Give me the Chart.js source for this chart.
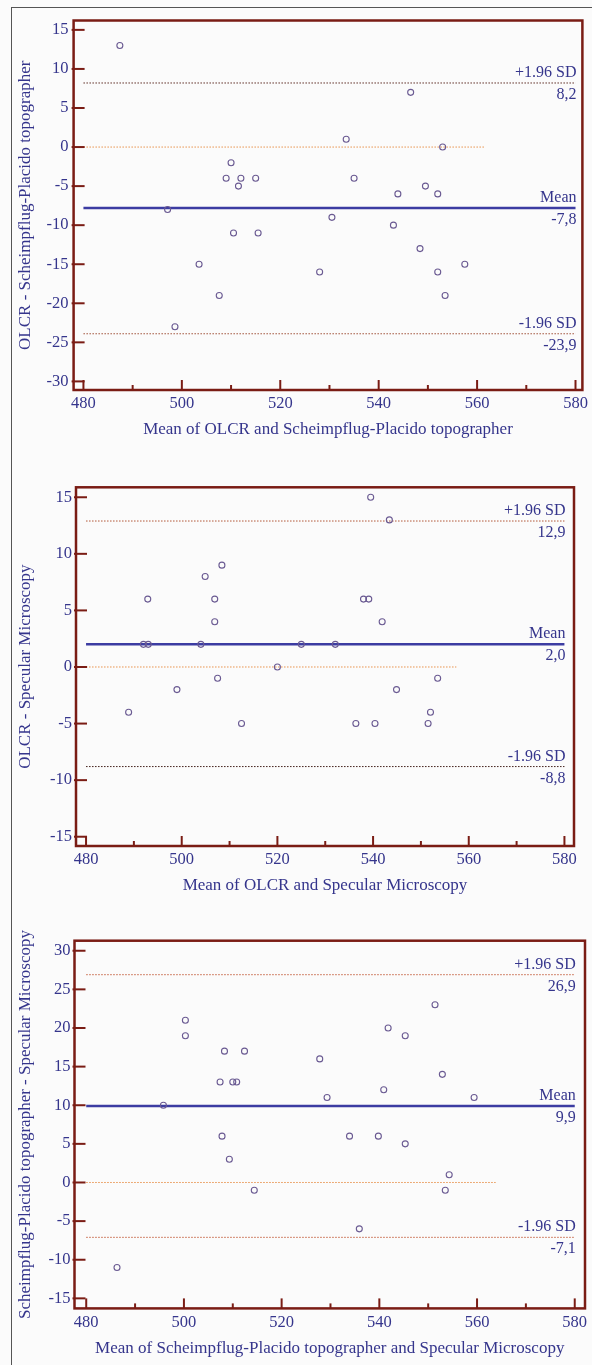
<!DOCTYPE html>
<html lang="en">
<head>
<meta charset="UTF-8">
<title>Bland-Altman plots</title>
<script src="https://cdn.jsdelivr.net/npm/chart.js"></script>
<style>
  body { margin: 0; background: #fbfbfb; }
  #page { position: relative; width: 592px; height: 1365px; overflow: hidden; }
  #frame { position: absolute; left: 11px; top: 7px; width: 620px; height: 1400px;
           border-left: 1px solid #555; border-top: 1px solid #555; }
  canvas { position: absolute; left: 0; }
</style>
</head>
<body>
<div id="page">
  <div id="frame"></div>
  <canvas id="c1" width="592" height="445" style="top:0px"></canvas>
  <canvas id="c2" width="592" height="455" style="top:445px"></canvas>
  <canvas id="c3" width="592" height="465" style="top:900px"></canvas>
</div>
<script>
// x ticks shared by all three plots
const xMajor = [480, 500, 520, 540, 560, 580];
const xMinor = [490, 510, 530, 550, 570];
const limitLabels = ['+1.96 SD', 'Mean', '-1.96 SD'];

// OLCR - Scheimpflug-Placido topographer
const p1X = [487.4, 546.5, 533.4, 553.0, 510.0, 509.0, 512.0, 511.5, 515.0, 535.0, 543.9, 549.5, 552.0,
             497.1, 530.5, 510.5, 515.5, 543.0, 503.5, 528.0, 548.4, 552.0, 557.5, 507.6, 553.5, 498.6];
const p1Y = [13, 7, 1, 0, -2, -4, -4, -5, -4, -4, -6, -5, -6,
             -8, -9, -11, -11, -10, -15, -16, -13, -16, -15, -19, -19, -23];
const p1Limits = [8.2, -7.8, -23.9];
const p1YTicks = [15, 10, 5, 0, -5, -10, -15, -20, -25, -30];
const p1ZeroEnd = 561.7;

// OLCR - Specular Microscopy
const p2X = [539.5, 543.4, 508.4, 504.9, 492.9, 506.9, 538.0, 539.1, 506.9, 541.9, 492.0, 493.0, 504.0,
             525.0, 532.1, 520.0, 507.5, 553.5, 499.0, 544.9, 488.9, 552.0, 512.5, 536.4, 540.4, 551.5];
const p2Y = [15, 13, 9, 8, 6, 6, 6, 6, 4, 4, 2, 2, 2,
             2, 2, 0, -1, -1, -2, -2, -4, -4, -5, -5, -5, -5];
const p2Limits = [12.9, 2.0, -8.8];
const p2YTicks = [15, 10, 5, 0, -5, -10, -15];
const p2ZeroEnd = 557.4;

// Scheimpflug-Placido topographer - Specular Microscopy
const p3X = [551.4, 500.3, 541.8, 500.3, 545.3, 508.3, 512.4, 527.8, 552.9, 507.4, 510.0, 510.8, 540.9,
             529.3, 559.4, 495.8, 507.8, 533.9, 539.8, 545.3, 509.3, 554.3, 514.4, 553.5, 535.9, 486.3];
const p3Y = [23, 21, 20, 19, 19, 17, 17, 16, 14, 13, 13, 13, 12,
             11, 11, 10, 6, 6, 6, 5, 3, 1, -1, -1, -6, -11];
const p3Limits = [26.9, 9.9, -7.1];
const p3YTicks = [30, 25, 20, 15, 10, 5, 0, -5, -10, -15];
const p3ZeroEnd = 563.8;

const TEXT = '#35358c';
const BOX = '#7a1c14';
const FONT = 'Liberation Serif, Times New Roman, serif';

const framePlugin = {
  id: 'frame',
  afterDatasetsDraw(chart, args, opts) {
    const ctx = chart.ctx, a = chart.chartArea;
    const xs = chart.scales.x, ys = chart.scales.y;
    ctx.save();
    ctx.strokeStyle = BOX;
    ctx.lineWidth = 2;
    const seg = (x1, y1, x2, y2) => { ctx.beginPath(); ctx.moveTo(x1, y1); ctx.lineTo(x2, y2); ctx.stroke(); };
    xMajor.forEach(v => { const px = xs.getPixelForValue(v); seg(px, a.bottom, px, a.bottom - 10); });
    xMinor.forEach(v => { const px = xs.getPixelForValue(v); seg(px, a.bottom, px, a.bottom - 5); });
    ys.ticks.forEach(t => { const py = ys.getPixelForValue(t.value); seg(a.left - 2, py, a.left + 11, py); });
    ctx.lineWidth = 2.5;
    ctx.strokeRect(a.left, a.top, a.right - a.left, a.bottom - a.top);

    // limit labels above / values below each line
    ctx.fillStyle = TEXT;
    ctx.font = '16px ' + FONT;
    ctx.textAlign = 'right';
    ctx.textBaseline = 'alphabetic';
    const rx = xs.getPixelForValue(580) + 1;
    opts.limits.forEach((v, i) => {
      const py = ys.getPixelForValue(v);
      ctx.fillText(limitLabels[i], rx, py - 6);
      ctx.fillText(v.toFixed(1).replace('.', ','), rx, py + 16);
    });
    ctx.restore();
  }
};

function makePanel(id, xs, ysv, limits, yTicks, zeroEnd, c) {
  const hline = (y, x2, color, width, dash) => ({
    type: 'line', showLine: true, pointRadius: 0, borderColor: color, borderWidth: width,
    borderDash: dash, data: [{x: 480, y: y}, {x: x2, y: y}]
  });
  new Chart(document.getElementById(id), {
    type: 'scatter',
    data: {
      datasets: [
        { data: xs.map((x, i) => ({x: x, y: ysv[i]})), pointStyle: 'circle', pointRadius: 3,
          backgroundColor: 'rgba(0,0,0,0)', borderColor: '#6a5a92', borderWidth: 1.1 },
        hline(limits[1], 580, '#3c3ca2', 2.5, []),
        hline(limits[0], 580, c.upper, 1, [1.5, 1.5]),
        hline(limits[2], 580, c.lower, 1, [1.5, 1.5]),
        hline(0, zeroEnd, '#e8924c', 1, [1.5, 1.5])
      ]
    },
    options: {
      responsive: false,
      animation: false,
      layout: { autoPadding: false, padding: { left: 0, top: c.top, right: 592 - c.right, bottom: 0 } },
      plugins: { legend: { display: false }, tooltip: { enabled: false }, frame: { limits: limits } },
      scales: {
        x: {
          type: 'linear', min: c.xmin, max: c.xmax,
          afterBuildTicks: s => { s.ticks = xMajor.map(v => ({value: v})); },
          afterFit: s => { s.height = c.h - c.bottom; },
          grid: { display: false, drawTicks: false }, border: { display: false },
          ticks: { color: TEXT, padding: 4, font: { family: FONT, size: 16.5 } },
          title: { display: true, text: c.xTitle, color: TEXT, padding: { top: 0, bottom: c.xTitlePad },
                   font: { family: FONT, size: 17 } }
        },
        y: {
          type: 'linear', min: c.ymin, max: c.ymax,
          afterBuildTicks: s => { s.ticks = yTicks.map(v => ({value: v})); },
          afterFit: s => { s.width = c.left; },
          grid: { display: false, drawTicks: false }, border: { display: false },
          ticks: { color: TEXT, padding: c.yPad, font: { family: FONT, size: 16.5 } },
          title: { display: true, text: c.yTitle, color: TEXT, padding: { top: 15, bottom: 0 },
                   font: { family: FONT, size: 17 } }
        }
      }
    },
    plugins: [framePlugin]
  });
}

makePanel('c1', p1X, p1Y, p1Limits, p1YTicks, p1ZeroEnd, {
  h: 445, left: 73.6, right: 583, top: 20.5, bottom: 390,
  xmin: 478.0, xmax: 581.4, ymin: -31.1, ymax: 16.2, yPad: 5, xTitlePad: 5,
  upper: '#5e2c24', lower: '#a0523a',
  xTitle: 'Mean of OLCR and Scheimpflug-Placido topographer',
  yTitle: 'OLCR - Scheimpflug-Placido topographer'
});
makePanel('c2', p2X, p2Y, p2Limits, p2YTicks, p2ZeroEnd, {
  h: 455, left: 76, right: 574, top: 42.3, bottom: 401,
  xmin: 477.9, xmax: 582.0, ymin: -15.82, ymax: 15.88, yPad: 4, xTitlePad: 4,
  upper: '#b05434', lower: '#3e1c16',
  xTitle: 'Mean of OLCR and Specular Microscopy',
  yTitle: 'OLCR - Specular Microscopy'
});
makePanel('c3', p3X, p3Y, p3Limits, p3YTicks, p3ZeroEnd, {
  h: 465, left: 74.5, right: 585, top: 40.7, bottom: 408.4,
  xmin: 477.6, xmax: 582.1, ymin: -16.3, ymax: 31.3, yPad: 4, xTitlePad: 6,
  upper: '#c4603e', lower: '#c4603e',
  xTitle: 'Mean of Scheimpflug-Placido topographer and Specular Microscopy',
  yTitle: 'Scheimpflug-Placido topographer - Specular Microscopy'
});
</script>
</body>
</html>
